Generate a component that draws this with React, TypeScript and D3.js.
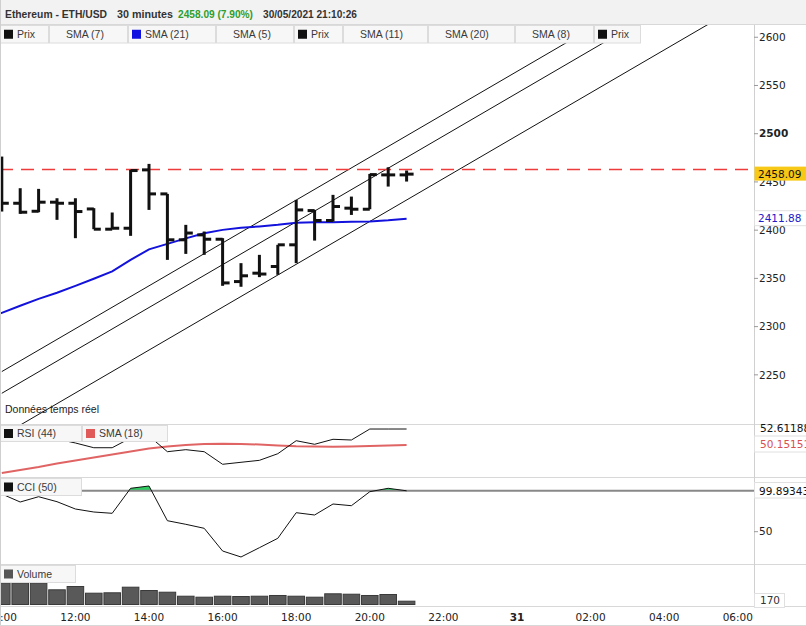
import React from 'react';
import * as d3 from 'd3';

// ---------------- DATA ----------------
const barTimes = ['10:00','10:30','11:00','11:30','12:00','12:30','13:00','13:30','14:00','14:30','15:00','15:30','16:00','16:30','17:00','17:30','18:00','18:30','19:00','19:30','20:00','20:30','21:00'];
const openP  = [2428.0,2427.9,2419.6,2429.0,2427.9,2422.0,2401.0,2402.0,2462.5,2437.6,2390.0,2395.1,2390.6,2346.7,2355.4,2362.3,2384.8,2420.3,2410.0,2422.8,2421.7,2457.3,2457.3];
const highP  = [2476.3,2443.5,2442.8,2433.1,2433.1,2422.8,2418.3,2462.5,2468.7,2437.6,2405.5,2398.6,2391.7,2365.8,2374.4,2384.8,2431.4,2421.0,2436.6,2434.8,2458.3,2465.2,2461.8];
const lowP   = [2419.3,2416.9,2418.6,2410.7,2391.7,2401.0,2401.0,2394.1,2421.0,2369.2,2375.4,2374.4,2342.3,2341.3,2351.3,2353.7,2365.8,2389.2,2408.9,2415.8,2421.7,2445.2,2450.4];
const closeP = [2427.9,2418.6,2429.0,2427.9,2419.3,2401.0,2402.0,2461.8,2437.6,2390.0,2397.0,2390.6,2345.3,2352.7,2354.5,2384.8,2421.0,2410.0,2424.5,2421.7,2457.6,2457.3,2458.09];

const smaTimes = ['09:30', ...barTimes];
const sma21 = [2307.0,2314.3,2321.6,2328.8,2335.1,2342.3,2349.6,2357.3,2369.2,2380.1,2385.8,2391.5,2396.7,2400.3,2402.4,2403.9,2405.5,2407.6,2408.1,2408.3,2408.6,2409.0,2410.2,2411.88];

const rsi44    = [51.38,51.53,51.38,51.07,50.46,49.73,49.73,51.23,51.53,49.12,49.43,49.12,47.18,47.49,47.79,48.81,50.81,50.26,51.03,50.92,52.61,52.61,52.61188];
const rsiSma18 = [45.84,46.30,46.76,47.30,47.76,48.23,48.69,49.15,49.61,49.92,50.15,50.30,50.35,50.30,50.23,50.07,49.96,49.92,49.89,49.92,49.99,50.07,50.15151];

const cci50 = [95.98,86.22,92.68,86.59,77.68,74.02,72.44,102.93,105.73,63.41,59.02,54.15,26.46,19.15,30.49,41.95,73.17,70.37,83.78,81.71,98.78,102.93,99.89343];

const volume = [1097,1097,1097,757,927,582,603,891,721,633,427,376,427,412,427,464,427,376,551,530,464,515,170];

// drawn channel: three parallel lines, price at 10:00 and at 06:00 next day
const channelStart = [2253.4, 2230.9, 2186.8];
const channelEnd   = [2697.9, 2675.4, 2631.3];
const resistance = 2463;

const lastPrice = 2458.09;
const lastSma21 = 2411.88;
const rsiLabel = '52.61188';
const rsiSmaLabel = '50.15151';
const cciLabel = '99.89343';
const cciRef = 100;
const volLabel = '170';

const priceTicks = [2250, 2300, 2350, 2400, 2450, 2500, 2550, 2600];
const boldPriceTicks = [2500];
const cciTicks = [50];

const timeTickAt = ['2021-05-30 10:00','2021-05-30 12:00','2021-05-30 14:00','2021-05-30 16:00','2021-05-30 18:00','2021-05-30 20:00','2021-05-30 22:00','2021-05-31 00:00','2021-05-31 02:00','2021-05-31 04:00','2021-05-31 06:00'];
const timeTickLabels = ['10:00','12:00','14:00','16:00','18:00','20:00','22:00','31','02:00','04:00','06:00'];

const legendLabels = ['Prix','SMA (7)','SMA (21)','SMA (5)','Prix','SMA (11)','SMA (20)','SMA (8)','Prix'];
const legendSwatch = ['#111', null, '#1010e0', null, '#111', null, null, null, '#111'];
const legendEdges = [0, 49, 128, 216, 294, 343, 428, 515, 594, 641];

// ---------------- LAYOUT ----------------
const W = 806, H = 626;
const PLOT_R = 754;
const parse = d3.timeParse('%Y-%m-%d %H:%M');
const at = (hm: string) => parse(`2021-05-30 ${hm}`) as Date;
const BAR_MS = 30 * 60 * 1000;
const refT = at('10:00').getTime();
const refX = 1.8, pxPerBar = 18.4;
const x = d3.scaleTime()
  .domain([new Date(refT - (refX / pxPerBar) * BAR_MS), new Date(refT + ((PLOT_R - refX) / pxPerBar) * BAR_MS)])
  .range([0, PLOT_R]);

const priceY = d3.scaleLinear().domain([2198, 2612.7]).range([425, 25]);
const rsiY = d3.scaleLinear().domain([45.07, 53.23]).range([478, 425]);
const cciY = d3.scaleLinear().domain([11.83, 114.27]).range([563, 479]);
const volY = d3.scaleLinear().domain([0, 2034]).range([604.5, 565]);

const AX = 'DejaVu Sans, Verdana, sans-serif';
const LG = 'Liberation Sans, Arial, sans-serif';

function LegendBox({ x0, x1, y0, y1, label, swatch }: any) {
  const cy = (y0 + y1) / 2;
  return (
    <g>
      <rect x={x0 + 0.5} y={y0 + 0.5} width={x1 - x0 - 1} height={y1 - y0 - 1} fill="#f7f7f7" stroke="#dcdcdc" />
      {swatch && <rect x={x0 + 4} y={cy - 4.5} width={9} height={9} fill={swatch} />}
      <text x={x0 + 17} y={cy} dy="0.35em" fontFamily={LG} fontSize={10.5} fill="#3a3a3a">{label}</text>
    </g>
  );
}

export default function App() {
  const bx = barTimes.map(t => x(at(t)));
  const smaLine = d3.line<number>().x((_, i) => x(at(smaTimes[i]))).y(v => priceY(v));
  const rsiLine = d3.line<number>().x((_, i) => bx[i]).y(v => rsiY(v));
  const cciLine = d3.line<number>().x((_, i) => bx[i]).y(v => cciY(v));
  const cciArea = d3.area<number>().x((_, i) => bx[i]).y0(cciY(cciRef)).y1(v => cciY(v));
  const tEnd = parse('2021-05-31 06:00') as Date;
  const volW = pxPerBar * 0.9;
  const resY = priceY(resistance);

  return (
    <svg width={W} height={H} style={{ position: 'absolute', left: 0, top: 0, background: '#fff' }}>
      <defs>
        <clipPath id="cp-price"><rect x={0} y={25} width={PLOT_R} height={400} /></clipPath>
        <clipPath id="cp-rsi"><rect x={0} y={425} width={PLOT_R} height={53} /></clipPath>
        <clipPath id="cp-cci"><rect x={0} y={478} width={PLOT_R} height={86} /></clipPath>
        <clipPath id="cp-cci-up"><rect x={0} y={478} width={PLOT_R} height={cciY(cciRef) - 478} /></clipPath>
        <clipPath id="cp-vol"><rect x={0} y={565} width={PLOT_R} height={41} /></clipPath>
      </defs>
      <rect x={0} y={0} width={W} height={H} fill="#fff" />

      {/* header */}
      <rect x={0} y={0} width={W} height={24.5} fill="#f2f2f2" />
      <line x1={0} x2={W} y1={24.5} y2={24.5} stroke="#d8d8d8" />
      <g fontFamily={LG} fontWeight="bold" fontSize={10.5} fill="#333">
        <text x={5} y={18} textLength={102} lengthAdjust="spacingAndGlyphs">Ethereum - ETH/USD</text>
        <text x={117} y={18} textLength={56} lengthAdjust="spacingAndGlyphs">30 minutes</text>
        <text x={178} y={18} textLength={75} lengthAdjust="spacingAndGlyphs" fill="#2e9e2e">2458.09 (7.90%)</text>
        <text x={263} y={18} textLength={94} lengthAdjust="spacingAndGlyphs">30/05/2021 21:10:26</text>
      </g>

      {/* price panel */}
      <g clipPath="url(#cp-price)">
        {channelStart.map((p, k) => (
          <line key={k} x1={x(at('10:00'))} y1={priceY(p)} x2={x(tEnd)} y2={priceY(channelEnd[k])} stroke="#111" strokeWidth={1} />
        ))}
        <line x1={0} x2={PLOT_R + 2} y1={resY} y2={resY} stroke="#ee3b3b" strokeWidth={1.5} strokeDasharray="13 8" />
        <path d={smaLine(sma21) || ''} fill="none" stroke="#1212dc" strokeWidth={2} />
        {barTimes.map((t, i) => (
          <g key={t} stroke="#111" strokeWidth={3}>
            <line x1={bx[i]} x2={bx[i]} y1={priceY(highP[i])} y2={priceY(lowP[i])} />
            <line x1={bx[i] - 7} x2={bx[i]} y1={priceY(openP[i])} y2={priceY(openP[i])} />
            <line x1={bx[i]} x2={bx[i] + 7} y1={priceY(closeP[i])} y2={priceY(closeP[i])} />
          </g>
        ))}
      </g>
      <text x={5} y={409.5} dy="0.35em" fontFamily={LG} fontSize={10.5} fill="#222">Données temps réel</text>

      {/* legend row */}
      {legendLabels.map((l, i) => (
        <LegendBox key={i} x0={legendEdges[i]} x1={legendEdges[i + 1]} y0={25} y1={43.5} label={l} swatch={legendSwatch[i]} />
      ))}

      {/* RSI panel */}
      <line x1={0} x2={W} y1={424.5} y2={424.5} stroke="#d8d8d8" />
      <g clipPath="url(#cp-rsi)">
        <path d={rsiLine(rsiSma18) || ''} fill="none" stroke="#e06464" strokeWidth={2} />
        <path d={rsiLine(rsi44) || ''} fill="none" stroke="#111" strokeWidth={1} />
      </g>
      <LegendBox x0={0} x1={82} y0={425} y1={442} label="RSI (44)" swatch="#111" />
      <LegendBox x0={82} x1={168} y0={425} y1={442} label="SMA (18)" swatch="#e05a5a" />

      {/* CCI panel */}
      <line x1={0} x2={W} y1={477.5} y2={477.5} stroke="#d8d8d8" />
      <g clipPath="url(#cp-cci)">
        <path d={cciArea(cci50) || ''} fill="#2ecc60" clipPath="url(#cp-cci-up)" />
        <line x1={0} x2={PLOT_R} y1={cciY(cciRef)} y2={cciY(cciRef)} stroke="#888" strokeWidth={2} />
        <path d={cciLine(cci50) || ''} fill="none" stroke="#111" strokeWidth={1} />
      </g>
      <LegendBox x0={0} x1={82} y0={478} y1={496} label="CCI (50)" swatch="#111" />

      {/* Volume panel */}
      <line x1={0} x2={W} y1={564.5} y2={564.5} stroke="#d8d8d8" />
      <g clipPath="url(#cp-vol)">
        {volume.map((v, i) => (
          <rect key={i} x={bx[i] - volW / 2} y={volY(v)} width={volW} height={volY(0) - volY(v)} fill="#595959" stroke="#3a3a3a" strokeWidth={1} />
        ))}
      </g>
      <LegendBox x0={0} x1={76} y0={565} y1={583} label="Volume" swatch="#555" />
      <line x1={0} x2={W} y1={606.5} y2={606.5} stroke="#d8d8d8" />

      {/* right axis */}
      <line x1={PLOT_R + 0.5} x2={PLOT_R + 0.5} y1={25} y2={606} stroke="#d0d0d0" />
      <g fontFamily={AX} fontSize={10.5} fill="#222">
        {priceTicks.map(p => (
          <g key={p}>
            <line x1={PLOT_R} x2={PLOT_R + 4} y1={priceY(p)} y2={priceY(p)} stroke="#999" />
            <text x={PLOT_R + 5} y={priceY(p)} dy="0.35em" fontWeight={boldPriceTicks.includes(p) ? 'bold' : 'normal'}>{p}</text>
          </g>
        ))}
        <rect x={PLOT_R + 0.5} y={priceY(lastPrice) - 7.5} width={W - PLOT_R} height={14} fill="#f7c815" />
        <text x={PLOT_R + 4} y={priceY(lastPrice)} dy="0.35em" fill="#111">{lastPrice.toFixed(2)}</text>
        <rect x={PLOT_R + 0.5} y={priceY(lastSma21) - 8} width={W - PLOT_R} height={15} fill="#fff" stroke="#e0e0e0" />
        <text x={PLOT_R + 4} y={priceY(lastSma21)} dy="0.35em" fill="#2020c8">{lastSma21.toFixed(2)}</text>

        <rect x={PLOT_R + 0.5} y={436} width={W - PLOT_R} height={16} fill="#fff" stroke="#e0e0e0" />
        <text x={PLOT_R + 6} y={428.5} dy="0.35em" fill="#111">{rsiLabel}</text>
        <text x={PLOT_R + 6} y={444} dy="0.35em" fill="#d85050">{rsiSmaLabel}</text>

        <rect x={PLOT_R + 0.5} y={482.5} width={W - PLOT_R} height={15.5} fill="#fff" stroke="#e0e0e0" />
        <text x={PLOT_R + 5} y={cciY(cciRef) + 0.3} dy="0.35em" fill="#111">{cciLabel}</text>
        {cciTicks.map(c => (
          <g key={c}>
            <line x1={PLOT_R} x2={PLOT_R + 4} y1={cciY(c)} y2={cciY(c)} stroke="#999" />
            <text x={PLOT_R + 5} y={cciY(c)} dy="0.35em">{c}</text>
          </g>
        ))}

        <rect x={PLOT_R + 0.5} y={593.5} width={30} height={14} fill="#fff" stroke="#e0e0e0" />
        <text x={PLOT_R + 6} y={600.5} dy="0.35em" fill="#333">{volLabel}</text>
      </g>

      {/* time axis */}
      <g fontFamily={AX} fontSize={10.5} fill="#222" textAnchor="middle">
        {timeTickAt.map((s, i) => (
          <text key={s} x={x(parse(s) as Date)} y={617} dy="0.35em" fontWeight={timeTickLabels[i].length < 3 ? 'bold' : 'normal'}>{timeTickLabels[i]}</text>
        ))}
      </g>

      {/* frame */}
      <line x1={0.5} x2={0.5} y1={0} y2={H} stroke="#cfcfcf" />
      <line x1={0} x2={W} y1={H - 0.5} y2={H - 0.5} stroke="#d8d8d8" />
    </svg>
  );
}
